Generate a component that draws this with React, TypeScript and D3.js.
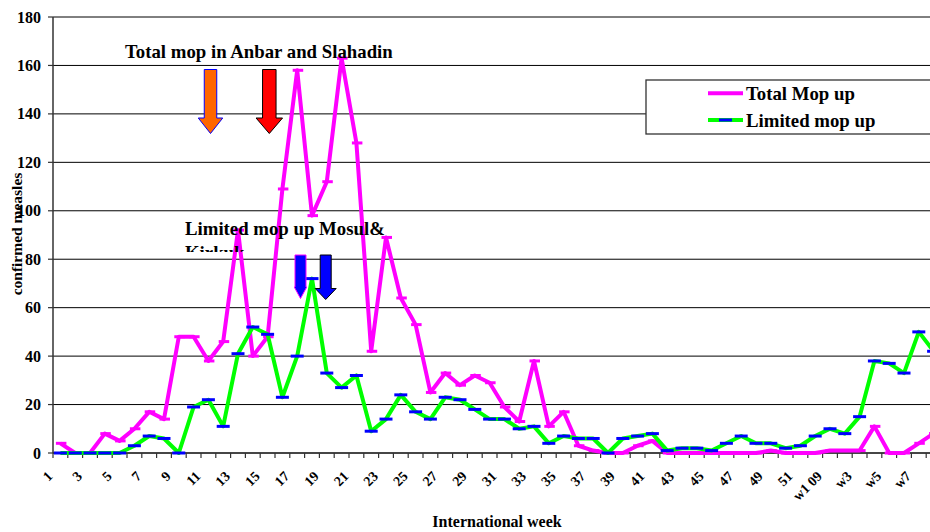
import React from "react";
import * as d3 from "d3";

const weeks: string[] = [
  ...Array.from({ length: 52 }, (_, i) => String(i + 1)),
  "w1 09", "w2", "w3", "w4", "w5", "w6", "w7", "w8",
];

const totalMopUp: number[] = [
  4, 0, 0, 8, 5, 10, 17, 14, 48, 48,
  38, 46, 92, 40, 48, 109, 158, 98, 112, 163,
  128, 42, 89, 64, 53, 25, 33, 28, 32, 29,
  19, 13, 38, 11, 17, 3, 1, 0, 0, 3,
  5, 0, 0, 0, 0, 0, 0, 0, 1, 0,
  0, 0, 1, 1, 1, 11, 0, 0, 4, 8,
];

const limitedMopUp: number[] = [
  0, 0, 0, 0, 0, 3, 7, 6, 0, 19,
  22, 11, 41, 52, 49, 23, 40, 72, 33, 27,
  32, 9, 14, 24, 17, 14, 23, 22, 18, 14,
  14, 10, 11, 4, 7, 6, 6, 0, 6, 7,
  8, 1, 2, 2, 1, 4, 7, 4, 4, 2,
  3, 7, 10, 8, 15, 38, 37, 33, 50, 42,
];

const yTicks: number[] = [0, 20, 40, 60, 80, 100, 120, 140, 160, 180];

const seriesNames: string[] = ["Total Mop up", "Limited mop up"];

const W = 930;
const H = 532;
const LEFT = 53;
const STEP = 14.8;
const TOP = 17;
const BOTTOM = 453;
const RIGHT = LEFT + weeks.length * STEP;

const PINK = "#ff00ff";
const GREEN = "#00ff00";
const BLUE = "#0000ff";
const FONT = "'Liberation Serif', 'Times New Roman', serif";

const arrows = [
  { cx: 210.5, top: 69.5, headY: 118, tip: 133.5, shaftW: 12.5, headW: 24.5, fill: "#ff6600", stroke: "#0000ff" },
  { cx: 269.3, top: 69.5, headY: 118, tip: 133.5, shaftW: 13.5, headW: 26.5, fill: "#ff0000", stroke: "#000000" },
  { cx: 300.5, top: 255, headY: 287, tip: 298.5, shaftW: 11, headW: 12.5, fill: "#0000ff", stroke: "#ff00ff" },
  { cx: 325.7, top: 255, headY: 288.5, tip: 299.5, shaftW: 11, headW: 21, fill: "#0000ff", stroke: "#000000" },
];

function arrowPath(a: typeof arrows[number]): string {
  const s = a.shaftW / 2;
  const h = a.headW / 2;
  return [
    `M${a.cx - s},${a.top}`,
    `L${a.cx + s},${a.top}`,
    `L${a.cx + s},${a.headY}`,
    `L${a.cx + h},${a.headY}`,
    `L${a.cx},${a.tip}`,
    `L${a.cx - h},${a.headY}`,
    `L${a.cx - s},${a.headY}`,
    "Z",
  ].join(" ");
}

export default function App() {
  const x = d3.scaleBand<string>().domain(weeks).range([LEFT, RIGHT]).paddingInner(0).paddingOuter(0);
  const y = d3.scaleLinear().domain([0, 180]).range([BOTTOM, TOP]);
  const cx = (w: string) => (x(w) as number) + x.bandwidth() / 2;

  const line = d3
    .line<number>()
    .x((_, i) => cx(weeks[i]))
    .y((d) => y(d));

  const boundaries = d3.range(weeks.length + 1).map((k) => LEFT + k * x.bandwidth());

  return (
    <svg
      width={W}
      height={H}
      style={{ position: "absolute", left: 0, top: 0, background: "#fff" }}
      fontFamily={FONT}
    >
      <defs>
        <clipPath id="kirkuk-clip">
          <rect x={180} y={200} width={240} height={52} />
        </clipPath>
      </defs>
      <rect x={0} y={0} width={W} height={H} fill="#fff" />

      {/* gridlines */}
      {yTicks.map((t) => (
        <line key={`g${t}`} x1={LEFT} x2={RIGHT} y1={y(t)} y2={y(t)} stroke="#000" strokeWidth={1} />
      ))}

      {/* y axis */}
      <line x1={LEFT} x2={LEFT} y1={TOP} y2={BOTTOM} stroke="#333" strokeWidth={1.5} />
      {yTicks.map((t) => (
        <g key={`yt${t}`}>
          <line x1={LEFT - 5} x2={LEFT} y1={y(t)} y2={y(t)} stroke="#333" strokeWidth={1.2} />
          <text x={41} y={y(t)} dy="0.35em" textAnchor="end" fontSize={16} fontWeight="bold">
            {t}
          </text>
        </g>
      ))}

      {/* x axis */}
      <line x1={LEFT} x2={RIGHT} y1={BOTTOM} y2={BOTTOM} stroke="#333" strokeWidth={1.5} />
      {boundaries.map((b, k) => (
        <line key={`xt${k}`} x1={b} x2={b} y1={BOTTOM} y2={BOTTOM + 5} stroke="#333" strokeWidth={1.2} />
      ))}
      {weeks.map((w, i) =>
        i % 2 === 0 ? (
          <text
            key={`xl${w}`}
            transform={`translate(${cx(w) - 7},${477}) rotate(-45)`}
            textAnchor="end"
            fontSize={14}
            fontWeight="bold"
          >
            {w}
          </text>
        ) : null
      )}

      {/* axis titles */}
      <text x={497} y={527} textAnchor="middle" fontSize={16} fontWeight="bold">
        International week
      </text>
      <text transform="translate(22,234) rotate(-90)" textAnchor="middle" fontSize={15.5} fontWeight="bold">
        confirmed measles
      </text>

      {/* series: Total Mop up */}
      <path d={line(totalMopUp) as string} fill="none" stroke={PINK} strokeWidth={4} strokeLinejoin="round" />
      {totalMopUp.map((v, i) => (
        <line
          key={`pm${i}`}
          x1={cx(weeks[i]) - 4.5}
          x2={cx(weeks[i]) + 6}
          y1={y(v)}
          y2={y(v)}
          stroke={PINK}
          strokeWidth={3}
        />
      ))}

      {/* series: Limited mop up */}
      <path d={line(limitedMopUp) as string} fill="none" stroke={GREEN} strokeWidth={4} strokeLinejoin="round" />
      {limitedMopUp.map((v, i) => (
        <line
          key={`gm${i}`}
          x1={cx(weeks[i]) - 6.5}
          x2={cx(weeks[i]) + 6.5}
          y1={y(v)}
          y2={y(v)}
          stroke={BLUE}
          strokeWidth={3}
        />
      ))}

      {/* arrows */}
      {arrows.map((a, i) => (
        <path key={`ar${i}`} d={arrowPath(a)} fill={a.fill} stroke={a.stroke} strokeWidth={1} />
      ))}

      {/* annotations */}
      <text x={125} y={58} fontSize={18.8} fontWeight="bold">
        Total mop in Anbar and Slahadin
      </text>
      <g clipPath="url(#kirkuk-clip)">
        <text x={185} y={235} fontSize={18.8} fontWeight="bold">
          Limited mop up Mosul&amp;
        </text>
        <text x={185} y={258.5} fontSize={18.8} fontWeight="bold">
          Kirkuk
        </text>
      </g>

      {/* legend */}
      <rect x={646} y={80} width={300} height={54} fill="#fff" stroke="#333" strokeWidth={1.3} />
      <line x1={708} x2={743} y1={93.3} y2={93.3} stroke={PINK} strokeWidth={4} />
      <text x={746} y={100} fontSize={18.8} fontWeight="bold">
        {seriesNames[0]}
      </text>
      <line x1={708} x2={743} y1={120} y2={120} stroke={GREEN} strokeWidth={4} />
      <line x1={719} x2={732} y1={120} y2={120} stroke={BLUE} strokeWidth={3} />
      <text x={746} y={127} fontSize={18.8} fontWeight="bold">
        {seriesNames[1]}
      </text>
    </svg>
  );
}
